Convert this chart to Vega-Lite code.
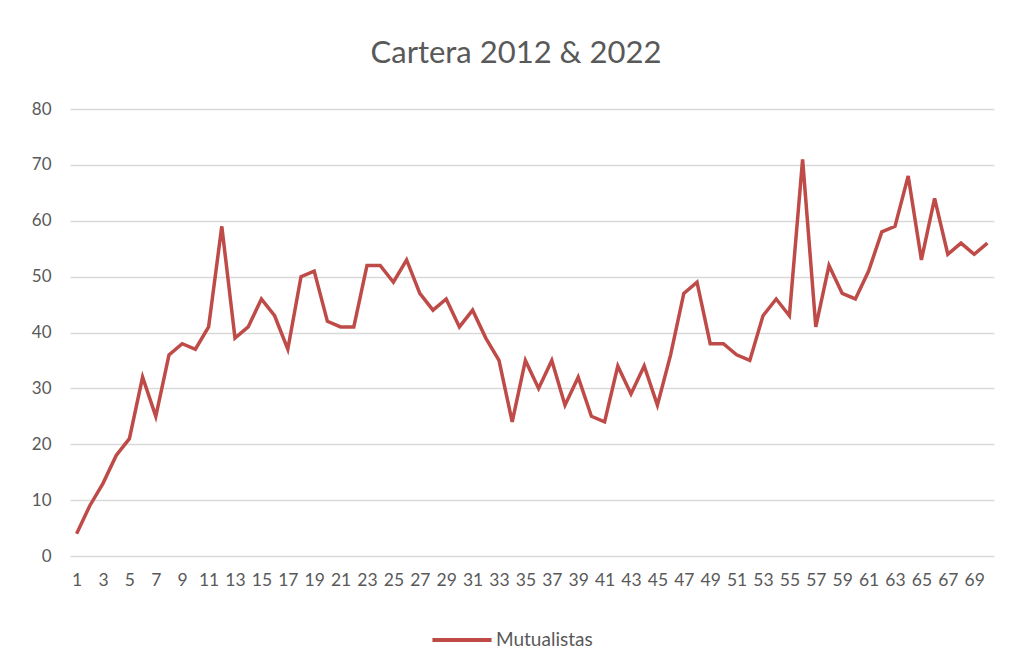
{
  "$schema": "https://vega.github.io/schema/vega-lite/v6.json",
  "autosize": {"type": "none"},
  "padding": {"left": 70, "top": 109, "right": 22, "bottom": 110},
  "width": 924,
  "height": 447,
  "background": "white",
  "title": {
    "text": "Cartera 2012 & 2022",
    "font": "Lato",
    "fontSize": 31,
    "fontWeight": "normal",
    "color": "#595959",
    "anchor": "middle",
    "dx": -16,
    "offset": 30
  },
  "data": {
    "values": [
      {"n": 1, "v": 4, "s": "Mutualistas"}, {"n": 2, "v": 9, "s": "Mutualistas"}, {"n": 3, "v": 13, "s": "Mutualistas"}, {"n": 4, "v": 18, "s": "Mutualistas"}, {"n": 5, "v": 21, "s": "Mutualistas"},
      {"n": 6, "v": 32, "s": "Mutualistas"}, {"n": 7, "v": 25, "s": "Mutualistas"}, {"n": 8, "v": 36, "s": "Mutualistas"}, {"n": 9, "v": 38, "s": "Mutualistas"}, {"n": 10, "v": 37, "s": "Mutualistas"},
      {"n": 11, "v": 41, "s": "Mutualistas"}, {"n": 12, "v": 59, "s": "Mutualistas"}, {"n": 13, "v": 39, "s": "Mutualistas"}, {"n": 14, "v": 41, "s": "Mutualistas"}, {"n": 15, "v": 46, "s": "Mutualistas"},
      {"n": 16, "v": 43, "s": "Mutualistas"}, {"n": 17, "v": 37, "s": "Mutualistas"}, {"n": 18, "v": 50, "s": "Mutualistas"}, {"n": 19, "v": 51, "s": "Mutualistas"}, {"n": 20, "v": 42, "s": "Mutualistas"},
      {"n": 21, "v": 41, "s": "Mutualistas"}, {"n": 22, "v": 41, "s": "Mutualistas"}, {"n": 23, "v": 52, "s": "Mutualistas"}, {"n": 24, "v": 52, "s": "Mutualistas"}, {"n": 25, "v": 49, "s": "Mutualistas"},
      {"n": 26, "v": 53, "s": "Mutualistas"}, {"n": 27, "v": 47, "s": "Mutualistas"}, {"n": 28, "v": 44, "s": "Mutualistas"}, {"n": 29, "v": 46, "s": "Mutualistas"}, {"n": 30, "v": 41, "s": "Mutualistas"},
      {"n": 31, "v": 44, "s": "Mutualistas"}, {"n": 32, "v": 39, "s": "Mutualistas"}, {"n": 33, "v": 35, "s": "Mutualistas"}, {"n": 34, "v": 24, "s": "Mutualistas"}, {"n": 35, "v": 35, "s": "Mutualistas"},
      {"n": 36, "v": 30, "s": "Mutualistas"}, {"n": 37, "v": 35, "s": "Mutualistas"}, {"n": 38, "v": 27, "s": "Mutualistas"}, {"n": 39, "v": 32, "s": "Mutualistas"}, {"n": 40, "v": 25, "s": "Mutualistas"},
      {"n": 41, "v": 24, "s": "Mutualistas"}, {"n": 42, "v": 34, "s": "Mutualistas"}, {"n": 43, "v": 29, "s": "Mutualistas"}, {"n": 44, "v": 34, "s": "Mutualistas"}, {"n": 45, "v": 27, "s": "Mutualistas"},
      {"n": 46, "v": 36, "s": "Mutualistas"}, {"n": 47, "v": 47, "s": "Mutualistas"}, {"n": 48, "v": 49, "s": "Mutualistas"}, {"n": 49, "v": 38, "s": "Mutualistas"}, {"n": 50, "v": 38, "s": "Mutualistas"},
      {"n": 51, "v": 36, "s": "Mutualistas"}, {"n": 52, "v": 35, "s": "Mutualistas"}, {"n": 53, "v": 43, "s": "Mutualistas"}, {"n": 54, "v": 46, "s": "Mutualistas"}, {"n": 55, "v": 43, "s": "Mutualistas"},
      {"n": 56, "v": 71, "s": "Mutualistas"}, {"n": 57, "v": 41, "s": "Mutualistas"}, {"n": 58, "v": 52, "s": "Mutualistas"}, {"n": 59, "v": 47, "s": "Mutualistas"}, {"n": 60, "v": 46, "s": "Mutualistas"},
      {"n": 61, "v": 51, "s": "Mutualistas"}, {"n": 62, "v": 58, "s": "Mutualistas"}, {"n": 63, "v": 59, "s": "Mutualistas"}, {"n": 64, "v": 68, "s": "Mutualistas"}, {"n": 65, "v": 53, "s": "Mutualistas"},
      {"n": 66, "v": 64, "s": "Mutualistas"}, {"n": 67, "v": 54, "s": "Mutualistas"}, {"n": 68, "v": 56, "s": "Mutualistas"}, {"n": 69, "v": 54, "s": "Mutualistas"}, {"n": 70, "v": 56, "s": "Mutualistas"}
    ]
  },
  "mark": {"type": "line", "strokeWidth": 3.5, "strokeJoin": "miter", "strokeCap": "butt"},
  "encoding": {
    "x": {
      "field": "n",
      "type": "quantitative",
      "scale": {"domain": [0.5, 70.5], "nice": false, "zero": false},
      "axis": {
        "title": null,
        "values": [1, 3, 5, 7, 9, 11, 13, 15, 17, 19, 21, 23, 25, 27, 29, 31, 33, 35, 37, 39, 41, 43, 45, 47, 49, 51, 53, 55, 57, 59, 61, 63, 65, 67, 69],
        "grid": false,
        "ticks": false,
        "domain": false,
        "labelOverlap": false,
        "labelFlush": false,
        "labelFont": "Lato",
        "labelFontSize": 17.5,
        "labelColor": "#595959",
        "labelPadding": 15
      }
    },
    "y": {
      "field": "v",
      "type": "quantitative",
      "scale": {"domain": [0, 80], "nice": false},
      "axis": {
        "title": null,
        "values": [0, 10, 20, 30, 40, 50, 60, 70, 80],
        "grid": true,
        "gridColor": "#d9d9d9",
        "gridWidth": 1.3,
        "ticks": false,
        "domain": false,
        "labelFont": "Lato",
        "labelFontSize": 17,
        "labelColor": "#595959",
        "labelPadding": 19
      }
    },
    "color": {
      "field": "s",
      "type": "nominal",
      "scale": {"range": ["#be4b48"]},
      "legend": {
        "title": null,
        "orient": "none",
        "legendX": 360,
        "legendY": 499,
        "symbolType": "stroke",
        "symbolSize": 3500,
        "symbolStrokeWidth": 4,
        "labelFont": "Lato",
        "labelFontSize": 19,
        "labelColor": "#595959",
        "labelOffset": 2
      }
    }
  },
  "config": {"view": {"stroke": null}}
}
